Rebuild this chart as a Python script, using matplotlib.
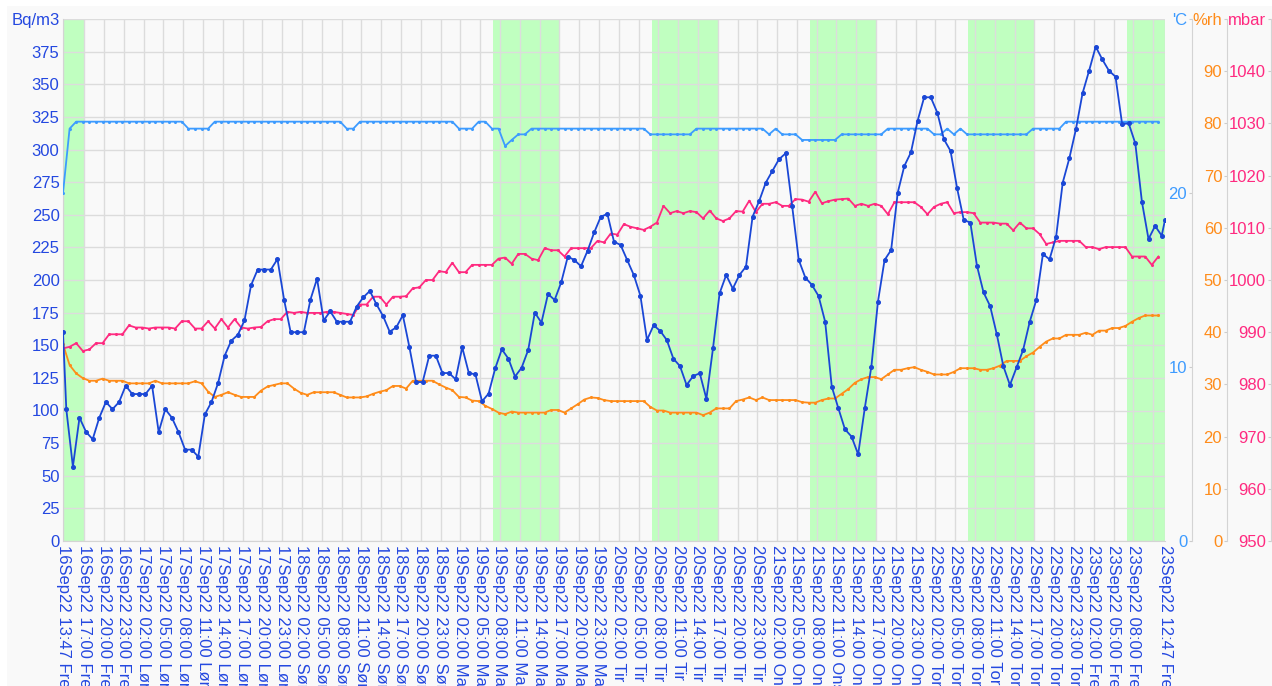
import matplotlib
matplotlib.use("Agg")
import matplotlib.pyplot as plt
import matplotlib.dates as mdates
from matplotlib.patches import Rectangle
from datetime import datetime, timedelta

plt.rcParams['font.family'] = ['Liberation Sans', 'DejaVu Sans']

# ---------------- data ----------------
START = datetime(2022, 9, 16, 13, 47)
END = datetime(2022, 9, 23, 12, 47)

# Radon (Bq/m3): first sample at START, then hourly at hh:17, last at END
RADON = [
    160, 101, 57, 94.5, 83.5, 78, 94.5, 106.5, 101, 106.5,
    119, 112.6, 112.6, 112.6, 119, 83.5, 101, 94.5, 83.5, 70,
    70, 64.6, 97, 106.5, 121, 142, 153.5, 158, 169, 196,
    208, 208, 208, 216, 185, 160, 160, 160, 185, 201,
    169, 176, 168, 168, 168, 179.6, 186.7, 191.6, 181.4, 172.4,
    160.4, 163.7, 173, 148.4, 121.8, 121.8, 142, 142, 128.7, 128.7,
    123.9, 148.4, 128.7, 127.7, 107, 113, 132.3, 146.9, 139.7, 126,
    132.8, 146.4, 175, 167.3, 189.3, 184.7, 198.2, 217.9, 215.3, 210.5,
    222.5, 236.5, 248.5, 250.6, 229.4, 226.8, 215.3, 203.8, 188, 154,
    165.3, 161, 154, 139.7, 134, 119.5, 126.4, 128.5, 109, 147.6,
    189.8, 203.8, 193.4, 203.8, 210.2, 248.5, 260.5, 274.6, 283.5, 292.5,
    297, 256.6, 215.3, 201.8, 196.2, 187.7, 168, 118.3, 101.7, 85.6,
    80, 66.4, 101.7, 133.6, 183.4, 215.3, 223, 267, 287.4, 297.8,
    321.8, 340, 340, 328.2, 307.8, 298.9, 270.2, 246, 244, 211,
    190.5, 180, 158.6, 134, 119.5, 133, 146.4, 168, 184.7, 219.9,
    215.8, 233.2, 274.6, 293.2, 315.5, 343, 360.4, 378.8, 369, 360.4,
    355.8, 319.5, 320, 304.7, 260, 231.4, 241.4, 234,
    246,
]

# Temperature ('C), hourly from START
TEMP = [
    20.0, 23.7, 24.1, 24.1, 24.1, 24.1, 24.1, 24.1, 24.1, 24.1,
    24.1, 24.1, 24.1, 24.1, 24.1, 24.1, 24.1, 24.1, 24.1, 23.7,
    23.7, 23.7, 23.7, 24.1, 24.1, 24.1, 24.1, 24.1, 24.1, 24.1,
    24.1, 24.1, 24.1, 24.1, 24.1, 24.1, 24.1, 24.1, 24.1, 24.1,
    24.1, 24.1, 24.1, 23.7, 23.7, 24.1, 24.1, 24.1, 24.1, 24.1,
    24.1, 24.1, 24.1, 24.1, 24.1, 24.1, 24.1, 24.1, 24.1, 24.1,
    23.7, 23.7, 23.7, 24.1, 24.1, 23.7, 23.7, 22.7, 23.05, 23.37,
    23.37, 23.7, 23.7, 23.7, 23.7, 23.7, 23.7, 23.7, 23.7, 23.7,
    23.7, 23.7, 23.7, 23.7, 23.7, 23.7, 23.7, 23.7, 23.7, 23.37,
    23.37, 23.37, 23.37, 23.37, 23.37, 23.37, 23.7, 23.7, 23.7, 23.7,
    23.7, 23.7, 23.7, 23.7, 23.7, 23.7, 23.7, 23.37, 23.7, 23.37,
    23.37, 23.37, 23.05, 23.05, 23.05, 23.05, 23.05, 23.05, 23.37, 23.37,
    23.37, 23.37, 23.37, 23.37, 23.37, 23.7, 23.7, 23.7, 23.7, 23.7,
    23.7, 23.7, 23.37, 23.37, 23.7, 23.37, 23.7, 23.37, 23.37, 23.37,
    23.37, 23.37, 23.37, 23.37, 23.37, 23.37, 23.37, 23.7, 23.7, 23.7,
    23.7, 23.7, 24.1, 24.1, 24.1, 24.1, 24.1, 24.1, 24.1, 24.1,
    24.1, 24.1, 24.1, 24.1, 24.1, 24.1, 24.1,
]

# Relative humidity (%rh), hourly from START
HUMIDITY = [
    37.7, 33.7, 32.1, 31.2, 30.7, 30.7, 31.1, 30.7, 30.7, 30.7,
    30.2, 30.2, 30.2, 30.2, 30.7, 30.2, 30.2, 30.2, 30.2, 30.2,
    30.6, 30.2, 28.6, 27.6, 28.0, 28.5, 28.0, 27.6, 27.6, 27.6,
    28.8, 29.6, 29.9, 30.2, 30.2, 29.2, 28.4, 28.0, 28.5, 28.5,
    28.5, 28.5, 28.0, 27.5, 27.5, 27.5, 27.7, 28.2, 28.6, 28.9,
    29.7, 29.7, 29.2, 30.7, 30.7, 30.7, 30.7, 30.0, 29.4, 28.9,
    27.6, 27.5, 26.9, 26.8, 25.9, 25.3, 24.6, 24.3, 24.8, 24.6,
    24.6, 24.6, 24.6, 24.6, 25.1, 25.1, 24.6, 25.4, 26.2, 27.1,
    27.5, 27.4, 27.0, 26.8, 26.8, 26.8, 26.8, 26.8, 26.8, 25.7,
    25.0, 25.0, 24.6, 24.6, 24.6, 24.6, 24.6, 24.1, 24.6, 25.4,
    25.4, 25.4, 26.8, 27.1, 27.5, 27.0, 27.5, 27.0, 27.0, 27.0,
    27.0, 27.0, 26.6, 26.5, 26.5, 27.0, 27.3, 27.3, 28.2, 29.1,
    30.3, 31.0, 31.4, 31.4, 31.0, 31.9, 32.8, 32.8, 33.1, 33.3,
    32.8, 32.4, 31.9, 31.9, 31.9, 32.4, 33.1, 33.1, 33.1, 32.8,
    32.8, 33.1, 33.6, 34.5, 34.5, 34.5, 35.4, 36.1, 37.2, 38.2,
    38.8, 38.8, 39.5, 39.5, 39.5, 39.9, 39.5, 40.3, 40.3, 40.8,
    40.8, 41.2, 42.0, 42.7, 43.2, 43.2, 43.2,
]

# Air pressure (mbar), hourly from START
PRESSURE = [
    986.9, 987.2, 987.9, 986.4, 986.7, 987.9, 987.9, 989.6, 989.6, 989.6,
    991.3, 990.9, 990.9, 990.7, 990.9, 990.9, 990.9, 990.7, 992.1, 992.1,
    990.7, 990.7, 992.1, 990.7, 992.5, 990.9, 992.5, 990.9, 990.7, 990.9,
    991.0, 992.1, 992.5, 992.5, 993.9, 993.7, 993.9, 993.7, 993.7, 993.7,
    993.9, 993.9, 993.7, 993.5, 993.3, 995.3, 995.3, 996.8, 996.8, 995.3,
    996.8, 996.8, 996.9, 998.4, 998.6, 1000.0, 1000.0, 1001.7, 1001.5, 1003.3,
    1001.5, 1001.5, 1002.9, 1002.9, 1002.9, 1002.9, 1004.1, 1004.3, 1003.1, 1005.0,
    1005.0, 1004.1, 1003.8, 1006.1, 1005.7, 1005.7, 1004.5, 1006.1, 1006.1, 1006.1,
    1006.1, 1007.5, 1007.2, 1008.9, 1008.7, 1010.7, 1010.2, 1009.9, 1009.6, 1010.2,
    1011.0, 1014.2, 1012.8, 1013.2, 1012.8, 1013.2, 1013.0, 1011.8, 1013.3, 1011.8,
    1011.3, 1011.8, 1013.2, 1013.1, 1015.2, 1013.0, 1014.6, 1014.6, 1014.9, 1014.2,
    1014.2, 1015.5, 1015.4, 1015.0, 1016.9, 1014.7, 1015.1, 1015.4, 1015.5, 1015.6,
    1014.2, 1014.6, 1014.2, 1014.6, 1014.2, 1012.6, 1014.9, 1014.9, 1014.9, 1014.9,
    1014.0, 1012.6, 1014.0, 1014.6, 1014.9, 1012.8, 1013.0, 1013.0, 1012.8, 1011.0,
    1011.0, 1011.0, 1010.8, 1010.8, 1009.5, 1011.0, 1009.9, 1009.9, 1008.8, 1006.9,
    1007.2, 1007.5, 1007.5, 1007.5, 1007.5, 1006.3, 1006.3, 1005.9, 1006.3, 1006.3,
    1006.3, 1006.3, 1004.5, 1004.5, 1004.5, 1002.9, 1004.5,
]

# Working hours shading (weekdays 07:00-17:00)
WORK_DAYS = [16, 19, 20, 21, 22, 23]
WORK_START_H, WORK_END_H = 7, 17

DAY_NAMES = ['Man', 'Tir', 'Ons', 'Tor', 'Fre', 'Lør', 'Søn']

UNIT_RADON, UNIT_TEMP, UNIT_HUM, UNIT_PRES = 'Bq/m3', "'C", '%rh', 'mbar'

# ---------------- styles ----------------
C_RADON = '#1a47d6'
C_RADON_TXT = '#2448e0'
C_TEMP = '#3d9bff'
C_HUM = '#ff8c1a'
C_PRES = '#ff2a80'
C_GREEN = '#c0ffc0'
C_GRID = '#dcdcdc'
C_BG = '#f9f9f9'

W, H = 1272, 686
fig = plt.figure(figsize=(W / 100, H / 100), dpi=100)
fig.patch.set_facecolor('white')
fig.add_artist(Rectangle((7 / W, 0), 1 - 7 / W, (H - 6) / H, transform=fig.transFigure,
                         facecolor=C_BG, edgecolor='none', zorder=-10))

L, R, T, B = 63, 1165, 19, 541
ax = fig.add_axes([L / W, (H - B) / H, (R - L) / W, (B - T) / H])
ax.set_facecolor(C_BG)

radon_times = [START] + [START + timedelta(minutes=30) + timedelta(hours=k) for k in range(len(RADON) - 2)] + [END]
env_times = [START + timedelta(hours=j) for j in range(len(TEMP))]

# green work-hour spans
for d in WORK_DAYS:
    s = max(datetime(2022, 9, d, WORK_START_H), START)
    e = min(datetime(2022, 9, d, WORK_END_H), END)
    ax.axvspan(mdates.date2num(s), mdates.date2num(e), color=C_GREEN, lw=0, zorder=1)

ax.set_xlim(mdates.date2num(START), mdates.date2num(END))
ax.set_ylim(0, 400)

# x ticks every 3 hours
ticks = [START]
t = datetime(2022, 9, 16, 17, 0)
while t <= datetime(2022, 9, 23, 11, 0):
    ticks.append(t)
    t += timedelta(hours=3)
ticks.append(END)
labels = []
for tk in ticks:
    if tk == datetime(2022, 9, 23, 11, 0):
        labels.append('')
    else:
        labels.append(f"{tk.day}Sep22 {tk:%H:%M} {DAY_NAMES[tk.weekday()]}")
ax.set_xticks([mdates.date2num(tk) for tk in ticks])
ax.set_xticklabels(labels, rotation=-90, ha='center', va='top', color=C_RADON_TXT, fontsize=12)
ax.tick_params(axis='x', length=0, pad=3)

yt = list(range(0, 401, 25))
ax.set_yticks(yt)
ax.set_yticklabels([str(v) for v in yt[:-1]] + [UNIT_RADON], color=C_RADON_TXT, fontsize=12)
ax.tick_params(axis='y', length=0, pad=2.5)

ax.grid(True, color=C_GRID, lw=1)
for s in ['top', 'right']:
    ax.spines[s].set_visible(False)
for s in ['left', 'bottom']:
    ax.spines[s].set_color('#d4d4d4')


def right_axis(pos, lo, hi, step, unit, color):
    a = ax.twinx()
    a.set_ylim(lo, hi)
    a.patch.set_visible(False)
    for s in ['top', 'bottom', 'right']:
        a.spines[s].set_visible(False)
    a.spines['left'].set_visible(True)
    a.spines['left'].set_position(('axes', pos))
    a.spines['left'].set_color('#d4d4d4')
    a.yaxis.tick_left()
    vals = list(range(lo, hi + 1, step))
    a.set_yticks(vals)
    a.set_yticklabels([str(v) for v in vals[:-1]] + [unit], color=color, fontsize=12)
    a.tick_params(axis='y', length=2.5, pad=1, color='#cccccc')
    return a


ax_t = right_axis((1192 - L) / (R - L), 0, 30, 10, UNIT_TEMP, C_TEMP)
ax_h = right_axis((1227 - L) / (R - L), 0, 100, 10, UNIT_HUM, C_HUM)
ax_p = right_axis((1271 - L) / (R - L), 950, 1050, 10, UNIT_PRES, C_PRES)

ax_t.plot(env_times, TEMP, color=C_TEMP, lw=1.3, marker='o', ms=1.2)
ax_h.plot(env_times, HUMIDITY, color=C_HUM, lw=1.3, marker='o', ms=1.2)
ax_p.plot(env_times, PRESSURE, color=C_PRES, lw=1.3, marker='o', ms=1.2)

# radon on top
ax_r = ax.twinx()
ax_r.set_ylim(0, 400)
ax_r.patch.set_visible(False)
ax_r.yaxis.set_visible(False)
for s in ax_r.spines.values():
    s.set_visible(False)
ax_r.plot(radon_times, RADON, color=C_RADON, lw=1.3, marker='o', ms=2.6)
ax_r.set_xlim(mdates.date2num(START), mdates.date2num(END))

fig.savefig('out.png', dpi=100, facecolor=fig.get_facecolor())
